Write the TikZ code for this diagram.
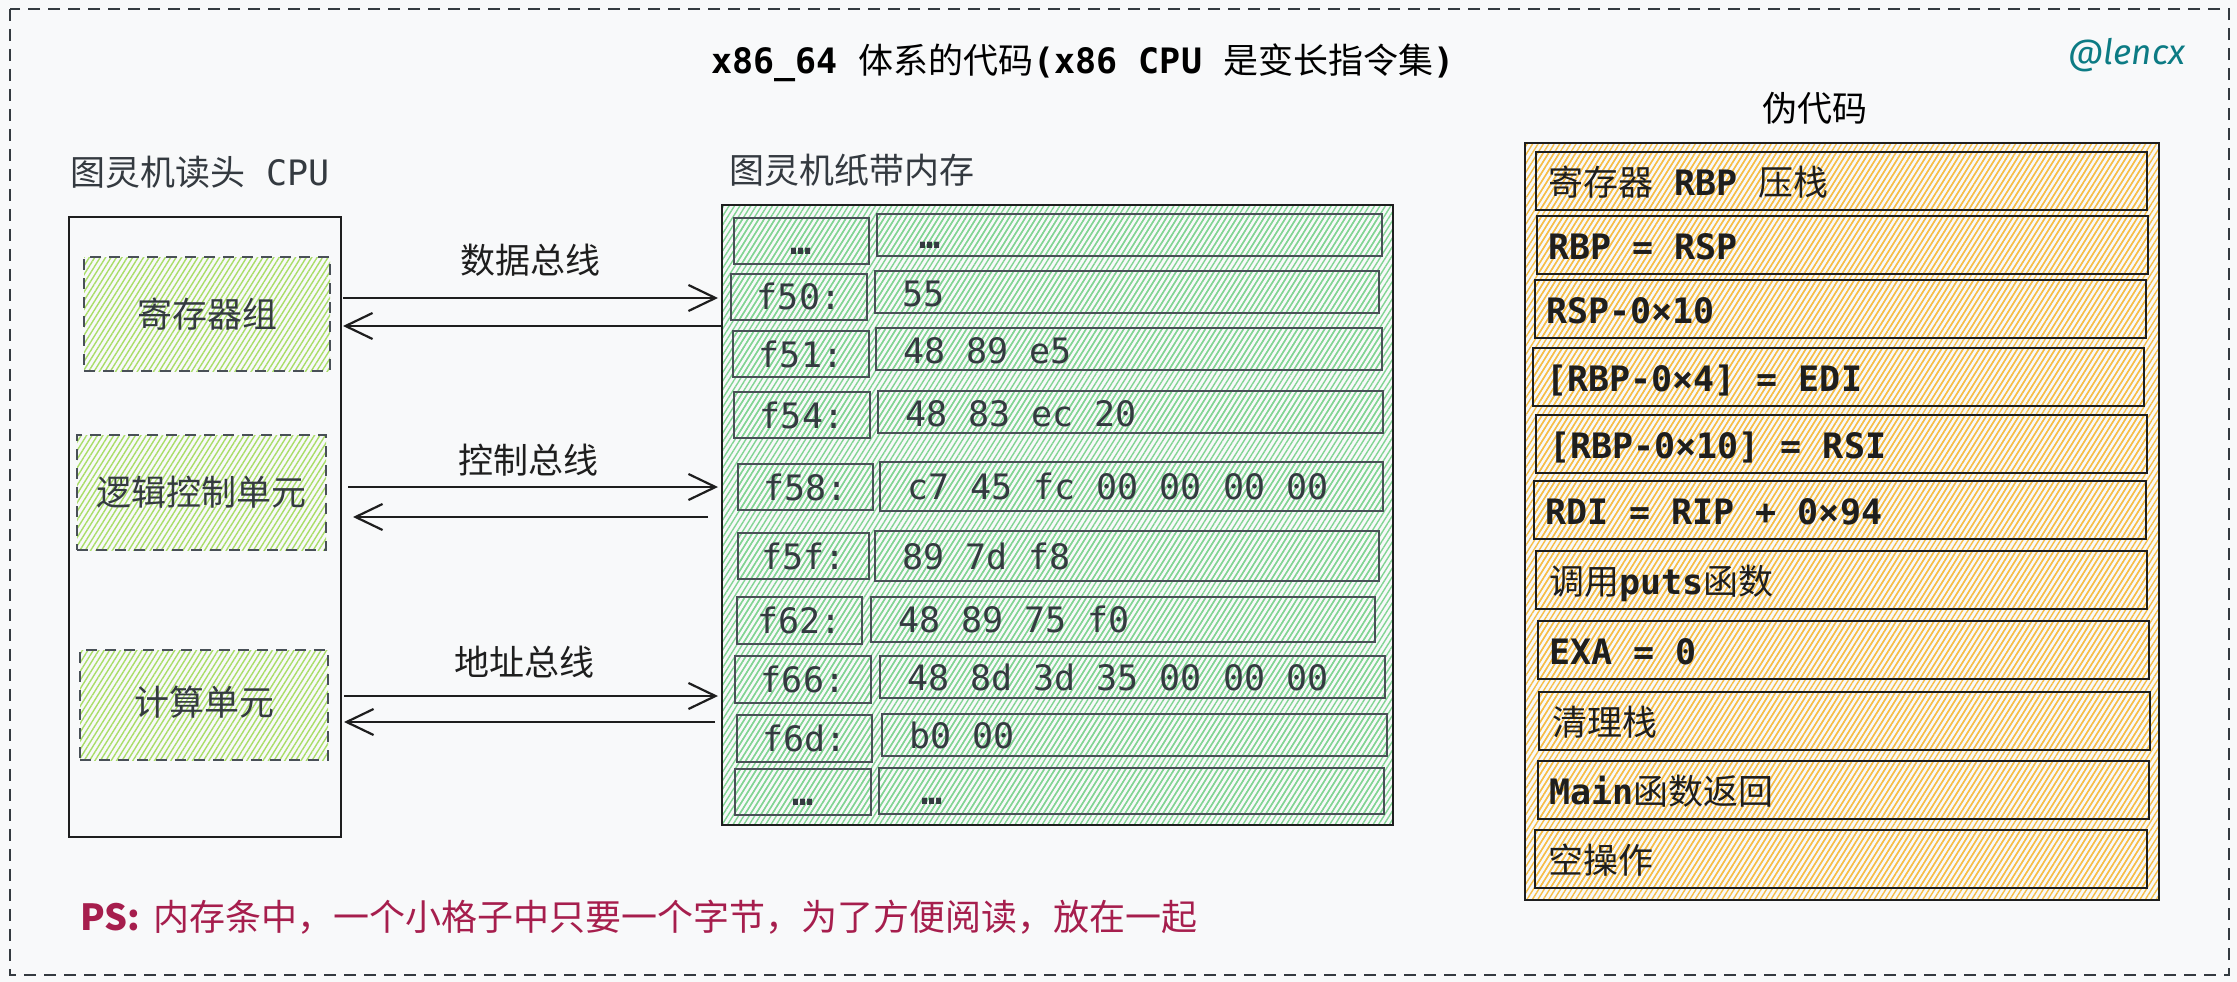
\documentclass[tikz,border=0pt]{standalone}
\usepackage{fontspec}
\setmainfont{Noto Sans CJK SC}
\newfontfamily\monof{DejaVu Sans Mono}
\newfontfamily\lencxf{Fira Sans}
\usetikzlibrary{arrows.meta,patterns.meta}
\definecolor{bgc}{HTML}{F8F9FA}
\definecolor{ink}{HTML}{1E1E1E}
\definecolor{grayeight}{HTML}{343A40}
\definecolor{grayseven}{HTML}{495057}
\definecolor{hgreen}{HTML}{82D493}
\definecolor{hlime}{HTML}{A9DD68}
\definecolor{horange}{HTML}{F6BE48}
\definecolor{psred}{HTML}{A61E4D}
\definecolor{lencxc}{HTML}{0C7B84}
\newcommand\M[1]{{\monof #1}}
\newcommand\MB[1]{{\monof\bfseries #1}}
\begin{document}
\begin{tikzpicture}[x=1pt,y=-1pt,
  fs/.style={font=\fontsize{35}{42}\selectfont},
  txt/.style={fs, inner sep=0pt, outer sep=0pt},
  rbox/.style 2 args={rectangle, inner sep=0pt, outer sep=0pt, minimum width=#1, minimum height=#2},
  hgr/.style={preaction={pattern={Lines[angle=58,distance=4.6pt,line width=1.4pt]}, pattern color=hgreen}},
  hli/.style={preaction={pattern={Lines[angle=58,distance=4.6pt,line width=1.4pt]}, pattern color=hlime}},
  hor/.style={preaction={pattern={Lines[angle=58,distance=4.6pt,line width=1.4pt]}, pattern color=horange}},
  cpubox/.style={draw=ink, line width=2.2pt},
  unitbox/.style={draw=grayseven, line width=2pt, dash pattern=on 11pt off 8pt, hli},
  membox/.style={draw=ink, line width=2pt, hgr},
  memcell/.style={draw=grayseven, line width=1.8pt, hgr},
  psbox/.style={draw=ink, line width=2pt, hor},
  pscell/.style={draw=ink, line width=2.2pt, hor},
  memtxt/.style={txt, text=grayeight},
  pstxt/.style={txt, text=ink},
  bus/.style={draw=ink, line width=2.2pt, -{Straight Barb[length=27pt,width=26pt,line width=2.2pt]}},
]
% canvas
\fill[bgc] (0,0) rectangle (2237,982);
\useasboundingbox (0,0) rectangle (2237,982);
\draw[grayeight, line width=2pt, dash pattern=on 12pt off 8pt] (10,9) rectangle (2229,975);

% title and signature
\node[txt, text=black, anchor=base west] (title) at (711,74) {\MB{x86\_64 }体系的代码\MB{(x86 CPU }是变长指令集\MB{)}};
\node[txt, text=lencxc, anchor=center, font=\lencxf\itshape\fontsize{35}{42}\selectfont] (sig) at (2127,55) {@lencx};

% section labels
\node[txt, text=grayeight, anchor=base west] (lcpu) at (70,185) {图灵机读头\M{ CPU}};
\node[txt, text=grayeight, anchor=base west] (lmem) at (729,183) {图灵机纸带内存};
\node[txt, text=black, anchor=base] (lps) at (1815,121) {伪代码};

% CPU
\node[cpubox, rbox={272}{620}] (cpu) at (205,527) {};
\node[unitbox, rbox={246}{114}] (reg) at (207,314) {};
\node[unitbox, rbox={249}{115}] (ctl) at (201.5,492.5) {};
\node[unitbox, rbox={248}{110}] (alu) at (204,705) {};
\node[memtxt] (regt) at (reg.center) {寄存器组};
\node[memtxt] (ctlt) at (ctl.center) {逻辑控制单元};
\node[memtxt] (alut) at ([yshift=3pt]alu.center) {计算单元};

% memory
\node[membox, rbox={671}{620}] (mem) at (1057.5,515) {};
\node[memcell, rbox={135}{46}] (m1l) at (801.5,241) {};
\node[memcell, rbox={505}{42}] (m1r) at (1129.5,235) {};
\node[memcell, rbox={136}{46}] (m2l) at (799,297) {};
\node[memcell, rbox={504}{42}] (m2r) at (1127,292) {};
\node[memcell, rbox={136}{46}] (m3l) at (801,354) {};
\node[memcell, rbox={506}{42}] (m3r) at (1129,349) {};
\node[memcell, rbox={136}{46}] (m4l) at (802,415) {};
\node[memcell, rbox={505}{42}] (m4r) at (1130.5,412) {};
\node[memcell, rbox={135}{46}] (m5l) at (805.5,487) {};
\node[memcell, rbox={503}{49}] (m5r) at (1131.5,486.5) {};
\node[memcell, rbox={131}{46}] (m6l) at (803.5,556) {};
\node[memcell, rbox={504}{50}] (m6r) at (1127,556) {};
\node[memcell, rbox={125}{47}] (m7l) at (799.5,620.5) {};
\node[memcell, rbox={504}{45}] (m7r) at (1123,619.5) {};
\node[memcell, rbox={136}{47}] (m8l) at (803,679.5) {};
\node[memcell, rbox={505}{42}] (m8r) at (1132.5,677) {};
\node[memcell, rbox={135}{47}] (m9l) at (804.5,738.5) {};
\node[memcell, rbox={505}{42}] (m9r) at (1134.5,735) {};
\node[memcell, rbox={136}{46}] (m10l) at (803,792) {};
\node[memcell, rbox={505}{46}] (m10r) at (1131.5,791) {};

\node[memtxt, anchor=base] (t1l) at ([yshift=-13pt]m1l.center) {\MB{…}};
\node[memtxt, anchor=base west] (t1r) at ([xshift=42pt,yshift=-13pt]m1r.west) {\MB{…}};
\node[memtxt, anchor=base] (t2l) at ([yshift=-12pt]m2l.center) {\M{f50:}};
\node[memtxt, anchor=base west] (t2r) at ([xshift=27pt,yshift=-14pt]m2r.west) {\M{55}};
\node[memtxt, anchor=base] (t3l) at ([yshift=-13pt]m3l.center) {\M{f51:}};
\node[memtxt, anchor=base west] (t3r) at ([xshift=27pt,yshift=-14pt]m3r.west) {\M{48 89 e5}};
\node[memtxt, anchor=base] (t4l) at ([yshift=-13pt]m4l.center) {\M{f54:}};
\node[memtxt, anchor=base west] (t4r) at ([xshift=27pt,yshift=-14pt]m4r.west) {\M{48 83 ec 20}};
\node[memtxt, anchor=base] (t5l) at ([yshift=-13pt]m5l.center) {\M{f58:}};
\node[memtxt, anchor=base west] (t5r) at ([xshift=27pt,yshift=-13pt]m5r.west) {\M{c7 45 fc 00 00 00 00}};
\node[memtxt, anchor=base] (t6l) at ([yshift=-13pt]m6l.center) {\M{f5f:}};
\node[memtxt, anchor=base west] (t6r) at ([xshift=27pt,yshift=-13pt]m6r.west) {\M{89 7d f8}};
\node[memtxt, anchor=base] (t7l) at ([yshift=-13pt]m7l.center) {\M{f62:}};
\node[memtxt, anchor=base west] (t7r) at ([xshift=27pt,yshift=-13pt]m7r.west) {\M{48 89 75 f0}};
\node[memtxt, anchor=base] (t8l) at ([yshift=-13pt]m8l.center) {\M{f66:}};
\node[memtxt, anchor=base west] (t8r) at ([xshift=27pt,yshift=-13pt]m8r.west) {\M{48 8d 3d 35 00 00 00}};
\node[memtxt, anchor=base] (t9l) at ([yshift=-13pt]m9l.center) {\M{f6d:}};
\node[memtxt, anchor=base west] (t9r) at ([xshift=27pt,yshift=-13pt]m9r.west) {\M{b0 00}};
\node[memtxt, anchor=base] (t10l) at ([yshift=-13pt]m10l.center) {\MB{…}};
\node[memtxt, anchor=base west] (t10r) at ([xshift=42pt,yshift=-13pt]m10r.west) {\MB{…}};

% pseudo code
\node[psbox, rbox={634}{757}] (ps) at (1842,521.5) {};
\node[pscell, rbox={611}{58}] (p1) at (1841.5,181) {};
\node[pscell, rbox={611}{58}] (p2) at (1842.5,245) {};
\node[pscell, rbox={611}{58}] (p3) at (1840.5,309) {};
\node[pscell, rbox={611}{58}] (p4) at (1838.5,377) {};
\node[pscell, rbox={611}{58}] (p5) at (1841.5,444) {};
\node[pscell, rbox={612}{58}] (p6) at (1840,510) {};
\node[pscell, rbox={611}{58}] (p7) at (1841.5,580) {};
\node[pscell, rbox={611}{58}] (p8) at (1843.5,650) {};
\node[pscell, rbox={611}{58}] (p9) at (1844.5,721) {};
\node[pscell, rbox={611}{58}] (p10) at (1843.5,790) {};
\node[pscell, rbox={612}{58}] (p11) at (1841,859) {};

\node[pstxt, anchor=base west] (q1) at ([xshift=12pt,yshift=-14pt]p1.west) {寄存器\MB{ RBP }压栈};
\node[pstxt, anchor=base west] (q2) at ([xshift=11pt,yshift=-14pt]p2.west) {\MB{RBP = RSP}};
\node[pstxt, anchor=base west] (q3) at ([xshift=11pt,yshift=-14pt]p3.west) {\MB{RSP-0×10}};
\node[pstxt, anchor=base west] (q4) at ([xshift=13pt,yshift=-14pt]p4.west) {\MB{[RBP-0×4] = EDI}};
\node[pstxt, anchor=base west] (q5) at ([xshift=13pt,yshift=-14pt]p5.west) {\MB{[RBP-0×10] = RSI}};
\node[pstxt, anchor=base west] (q6) at ([xshift=11pt,yshift=-14pt]p6.west) {\MB{RDI = RIP + 0×94}};
\node[pstxt, anchor=base west] (q7) at ([xshift=13pt,yshift=-14pt]p7.west) {调用\MB{puts}函数};
\node[pstxt, anchor=base west] (q8) at ([xshift=11pt,yshift=-14pt]p8.west) {\MB{EXA = 0}};
\node[pstxt, anchor=base west] (q9) at ([xshift=13pt,yshift=-14pt]p9.west) {清理栈};
\node[pstxt, anchor=base west] (q10) at ([xshift=11pt,yshift=-14pt]p10.west) {\MB{Main}函数返回};
\node[pstxt, anchor=base west] (q11) at ([xshift=13pt,yshift=-14pt]p11.west) {空操作};

% buses
\node[txt, text=ink, anchor=base] (lbd) at (530,273) {数据总线};
\node[txt, text=ink, anchor=base] (lbc) at (528,473) {控制总线};
\node[txt, text=ink, anchor=base] (lba) at (524,675) {地址总线};
\coordinate (yd1) at (0,298);
\coordinate (yd2) at (0,326);
\coordinate (yc1) at (0,487);
\coordinate (yc2) at (0,517);
\coordinate (ya1) at (0,696);
\coordinate (ya2) at (0,722);
\draw[bus, shorten <=2pt, shorten >=4pt] (cpu.east |- yd1) -- (mem.west |- yd1);
\draw[bus, shorten >=2pt] (mem.west |- yd2) -- (cpu.east |- yd2);
\draw[bus, shorten <=7pt, shorten >=4pt] (cpu.east |- yc1) -- (mem.west |- yc1);
\draw[bus, shorten <=14pt, shorten >=12pt] (mem.west |- yc2) -- (cpu.east |- yc2);
\draw[bus, shorten <=3pt, shorten >=4pt] (cpu.east |- ya1) -- (mem.west |- ya1);
\draw[bus, shorten <=7pt, shorten >=3pt] (mem.west |- ya2) -- (cpu.east |- ya2);

% note
\node[txt, text=psred, anchor=base west, font=\fontsize{36}{43}\selectfont] (note) at (80,930) {\textbf{PS:}\hspace{14pt}内存条中，一个小格子中只要一个字节，为了方便阅读，放在一起};
\end{tikzpicture}
\end{document}
